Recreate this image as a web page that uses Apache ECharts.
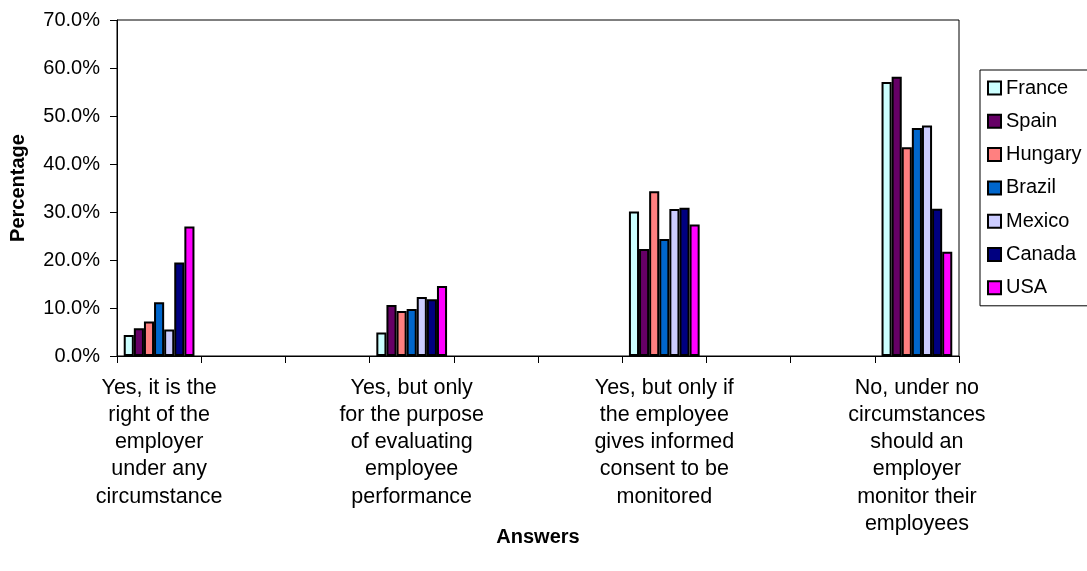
<!DOCTYPE html>
<html>
<head>
<meta charset="utf-8">
<script src="https://cdn.jsdelivr.net/npm/echarts@6/dist/echarts.min.js"></script>
<style>html,body{margin:0;padding:0;background:#fff}#c{width:1087px;height:571px}</style>
</head>
<body>
<div id="c"></div>
<script>
var answers = [
  "Yes, it is the\nright of the\nemployer\nunder any\ncircumstance",
  "Yes, but only\nfor the purpose\nof evaluating\nemployee\nperformance",
  "Yes, but only if\nthe employee\ngives informed\nconsent to be\nmonitored",
  "No, under no\ncircumstances\nshould an\nemployer\nmonitor their\nemployees"
];
var countries = ["France", "Spain", "Hungary", "Brazil", "Mexico", "Canada", "USA"];
var france  = [4.4, 4.9, 30.1, 57.1];
var spain   = [5.8, 10.6, 22.3, 58.2];
var hungary = [7.2, 9.4, 34.3, 43.5];
var brazil  = [11.2, 9.8, 24.4, 47.5];
var mexico  = [5.5, 12.3, 30.6, 48.0];
var canada  = [19.5, 11.8, 30.9, 30.7];
var usa     = [27.0, 14.6, 27.4, 21.7];
var yTicks = [0, 10, 20, 30, 40, 50, 60, 70];

var seriesValues = [france, spain, hungary, brazil, mexico, canada, usa];
var colors = ["#CCFFFF", "#660066", "#FF8080", "#0066CC", "#CCCCFF", "#000080", "#FF00FF"];

// The original sheet has two blank rows between answers
var SPACER = 2;
var axisCats = [];
answers.forEach(function (a, i) {
  axisCats.push(a);
  if (i < answers.length - 1) for (var k = 0; k < SPACER; k++) axisCats.push('');
});
function spread(arr) {
  var out = [];
  arr.forEach(function (v, i) {
    out.push(v / 100);
    if (i < arr.length - 1) for (var k = 0; k < SPACER; k++) out.push('-');
  });
  return out;
}

var FONT = "'Liberation Sans', Arial, sans-serif";
var chart = echarts.init(document.getElementById('c'), null, {renderer: 'canvas'});
chart.setOption({
  animation: false,
  backgroundColor: '#fff',
  textStyle: {fontFamily: FONT, color: '#000'},
  grid: {left: 117, right: 128, top: 20, bottom: 215, show: true, borderColor: '#000', borderWidth: 1},
  legend: {
    orient: 'vertical', left: 980, top: 70,
    data: countries,
    borderColor: '#000', borderWidth: 1,
    padding: [8, 30, 8, 7],
    itemWidth: 13, itemHeight: 13, itemGap: 13.3,
    icon: 'rect',
    textStyle: {fontFamily: FONT, fontSize: 20, color: '#000', lineHeight: 20}
  },
  xAxis: {
    type: 'category',
    data: axisCats,
    name: 'Answers',
    nameLocation: 'middle',
    nameGap: 171,
    nameMoveOverlap: false,
    nameTextStyle: {fontFamily: FONT, fontSize: 20, fontWeight: 'bold', color: '#000'},
    axisLine: {lineStyle: {color: '#000', width: 1}},
    axisTick: {show: true, inside: false, length: 7, lineStyle: {color: '#000'}},
    axisLabel: {interval: 0, margin: 18, fontFamily: FONT, fontSize: 21.5, lineHeight: 27.3, color: '#000', align: 'center'},
    splitLine: {show: false}
  },
  yAxis: {
    type: 'value',
    min: yTicks[0] / 100, max: yTicks[yTicks.length - 1] / 100, interval: 0.1,
    name: 'Percentage',
    nameLocation: 'middle',
    nameGap: 89,
    nameRotate: 90,
    nameMoveOverlap: false,
    nameTextStyle: {fontFamily: FONT, fontSize: 20, fontWeight: 'bold', color: '#000'},
    axisLine: {show: true, lineStyle: {color: '#000', width: 1}},
    axisTick: {show: true, inside: false, length: 7, lineStyle: {color: '#000'}},
    axisLabel: {margin: 17, fontFamily: FONT, fontSize: 20, color: '#000',
      formatter: function (v) { return (v * 100).toFixed(1) + '%'; }},
    splitLine: {show: false}
  },
  series: countries.map(function (name, i) {
    return {
      name: name,
      type: 'bar',
      data: spread(seriesValues[i]),
      barGap: '0%',
      barCategoryGap: '16%',
      itemStyle: {color: colors[i], borderColor: '#000', borderWidth: 2}
    };
  })
});
</script>
</body>
</html>
